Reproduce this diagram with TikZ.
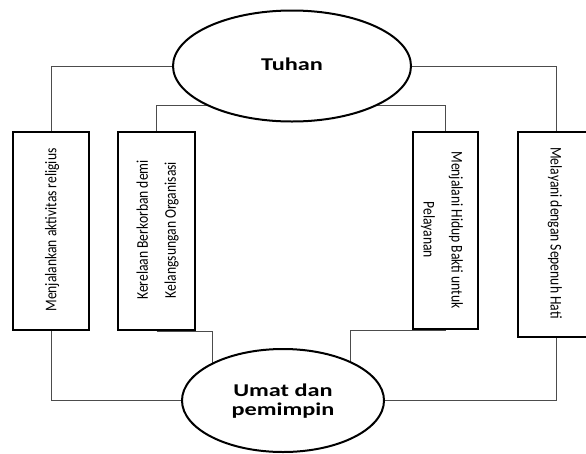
\documentclass[tikz,border=0pt]{standalone}
\usepackage{fontspec}
\setmainfont{Carlito}
\usetikzlibrary{shapes.geometric,backgrounds}
% sideways panel text: glyphs a little taller, lines centred
\newcommand{\sideone}[2]{\rotatebox{#1}{\scalebox{1}[1.2]{#2}}}
\newcommand{\sidetwo}[3]{\rotatebox{#1}{\scalebox{1}[1.2]{\begin{tabular}{@{}c@{}}#2\\[7pt]#3\end{tabular}}}}
% wide bold text of the ellipses
\newcommand{\ovallabel}[1]{\scalebox{1.35}[1]{\begin{tabular}{@{}c@{}}#1\end{tabular}}}
\begin{document}
\begin{tikzpicture}[x=1pt,y=-1pt,
  oval/.style={draw=black,line width=2pt,fill=white,ellipse,inner sep=0pt},
  ovaltext/.style={inner sep=0pt,font=\fontsize{18}{22}\selectfont\bfseries},
  panel/.style={draw=black,line width=2.6pt,fill=white,rectangle,inner sep=0pt},
  paneltext/.style={inner sep=0pt,font=\fontsize{13.6}{16.3}\selectfont},
  link/.style={draw=black!70,line width=1pt}]
\useasboundingbox (0,0) rectangle (586,453);

% the two ellipses
\node[oval,minimum width=238pt,minimum height=111pt] (tuhan) at (292,66) {};
\node[ovaltext] (tuhanlbl) at (tuhan.center) {\ovallabel{Tuhan}};
\node[oval,minimum width=202pt,minimum height=103pt] (umat) at (283,400.5) {};
\node[ovaltext] (umatlbl) at (283,401.5) {\ovallabel{Umat dan\\[-3pt]pemimpin}};

% the four upright panels
\node[panel,minimum width=76pt,minimum height=198pt] (b1) at (51,231) {};
\node[panel,minimum width=77pt,minimum height=198pt] (b2) at (156.5,231) {};
\node[panel,minimum width=65pt,minimum height=197pt] (b3) at (445.5,230.5) {};
\node[panel,minimum width=76pt,minimum height=205pt] (b4) at (556,234.5) {};

% panel texts, set sideways
\node[paneltext] (t1) at (52,230) {\sideone{90}{Menjalankan aktivitas religius}};
\node[paneltext] (t2) at (158,230) {\sidetwo{90}{Kerelaan Berkorban demi}{Kelangsungan Organisasi}};
\node[paneltext] (t3) at (441.5,230) {\sidetwo{-90}{Menjalani Hidup Bakti untuk}{Pelayanan}};
\node[paneltext] (t4) at (555,233) {\sideone{-90}{Melayani dengan Sepenuh Hati}};

% connectors, kept behind the shapes
\begin{pgfonlayer}{background}
\draw[link] (tuhan.west) -| (b1.north);
\draw[link] (tuhan.east) -| (b4.north);
\draw[link] (b2.north) |- ([yshift=-39pt]tuhan.center);
\draw[link] (b3.north) |- ([yshift=-39pt]tuhan.center);
\draw[link] (b1.south) |- (umat.west);
\draw[link] (b4.south) |- (umat.east);
\draw[link] (b2.south) -| ([xshift=-71pt]umat.center);
\draw[link] (b3.south) -| ([xshift=67pt]umat.center);
\end{pgfonlayer}
\end{tikzpicture}
\end{document}
